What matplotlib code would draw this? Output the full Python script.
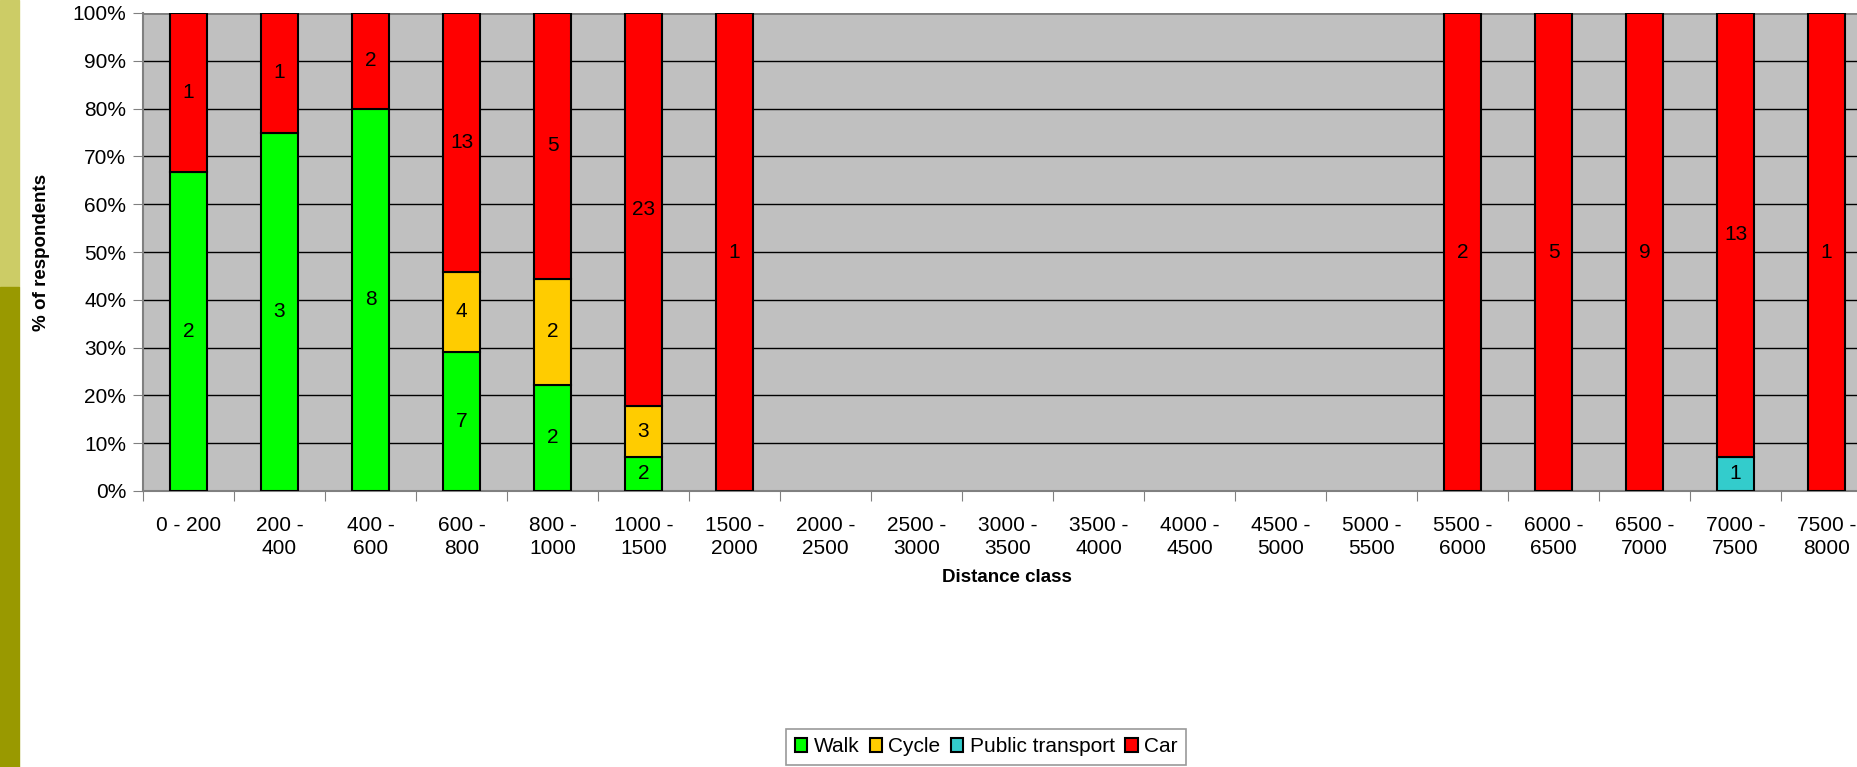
import numpy as np
import matplotlib.pyplot as plt
from matplotlib.patches import Patch, Rectangle

plt.rcParams['font.family'] = ['Liberation Sans', 'DejaVu Sans']

# distance classes (m)
classes = ['0 - 200', '200 -\n400', '400 -\n600', '600 -\n800', '800 -\n1000',
           '1000 -\n1500', '1500 -\n2000', '2000 -\n2500', '2500 -\n3000',
           '3000 -\n3500', '3500 -\n4000', '4000 -\n4500', '4500 -\n5000',
           '5000 -\n5500', '5500 -\n6000', '6000 -\n6500', '6500 -\n7000',
           '7000 -\n7500', '7500 -\n8000']

# number of respondents per mode
walk = [2, 3, 8, 7, 2, 2, 0, 0, 0, 0, 0, 0, 0, 0, 0, 0, 0, 0, 0]
cycle = [0, 0, 0, 4, 2, 3, 0, 0, 0, 0, 0, 0, 0, 0, 0, 0, 0, 0, 0]
public = [0, 0, 0, 0, 0, 0, 0, 0, 0, 0, 0, 0, 0, 0, 0, 0, 0, 1, 0]
car = [1, 1, 2, 13, 5, 23, 1, 0, 0, 0, 0, 0, 0, 0, 2, 5, 9, 13, 1]

modes = ['Walk', 'Cycle', 'Public transport', 'Car']
colors = ['#00FF00', '#FFCC00', '#33CCCC', '#FF0000']

counts = np.array([walk, cycle, public, car], dtype=float)
tot = counts.sum(axis=0)
pct = np.divide(counts, tot, out=np.zeros_like(counts), where=tot > 0) * 100

W, H = 1857, 767
fs = 15
fig = plt.figure(figsize=(W / 100, H / 100), dpi=100)

# slide decoration strip on the left
fig.patches.append(Rectangle((0, 0.626), 19 / W, 0.374, transform=fig.transFigure,
                             color='#CCCC66', zorder=0))
fig.patches.append(Rectangle((0, 0), 19 / W, 0.626, transform=fig.transFigure,
                             color='#999900', zorder=0))

ax = fig.add_axes([143 / W, (H - 491) / H, (1872 - 143) / W, 478 / H])
ax.set_facecolor('#C0C0C0')

x = np.arange(len(classes))
bottom = np.zeros(len(classes))
for i in range(len(modes)):
    m = counts[i] > 0
    ax.bar(x[m], pct[i][m], 0.41, bottom=bottom[m], color=colors[i],
           edgecolor='black', linewidth=1.5, zorder=3)
    for j in x[m]:
        ax.text(j, bottom[j] + pct[i, j] / 2, '%d' % counts[i, j],
                ha='center', va='center', fontsize=fs, zorder=4)
    bottom += pct[i]

ax.set_xlim(-0.5, len(classes) - 0.5)
ax.set_ylim(0, 100)
ax.set_yticks(np.arange(0, 101, 10))
ax.set_yticklabels(['%d%%' % v for v in range(0, 101, 10)], fontsize=fs)
ax.yaxis.grid(True, color='black', linewidth=1)
ax.set_axisbelow(True)

ax.set_xticks(np.arange(-0.5, len(classes), 1))
ax.set_xticklabels([])
ax.set_xticks(x, minor=True)
ax.set_xticklabels(classes, minor=True, fontsize=fs, linespacing=1.25)
ax.tick_params(axis='x', which='major', length=7, color='#808080')
ax.tick_params(axis='x', which='minor', length=0, pad=18)
ax.tick_params(axis='y', length=7, color='#808080', pad=5)

for s in ['top', 'right']:
    ax.spines[s].set_visible(False)
ax.spines['left'].set_color('#808080')
ax.spines['bottom'].set_color('#808080')
ax.spines['left'].set_linewidth(1.5)
ax.spines['bottom'].set_linewidth(1.5)
ax.axhline(100, color='#808080', linewidth=2, zorder=2)

fig.text(1007 / W, 1 - 578 / H, 'Distance class', ha='center', va='center',
         fontsize=13.5, fontweight='bold')
fig.text(42 / W, 1 - 252 / H, '% of respondents', ha='center', va='center',
         rotation=90, fontsize=13.5, fontweight='bold')

handles = [Patch(facecolor=c, edgecolor='black', linewidth=1.5) for c in colors]
leg = fig.legend(handles, modes, loc='upper center', ncol=4,
                 bbox_to_anchor=(986 / W, 1 - 729 / H), fontsize=fs,
                 frameon=True, fancybox=False, edgecolor='#808080',
                 handlelength=0.6, handleheight=0.6, handletextpad=0.3,
                 columnspacing=0.5, borderpad=0.4, borderaxespad=0)
leg.get_frame().set_linewidth(1.2)

fig.savefig('out.png', dpi=100)
